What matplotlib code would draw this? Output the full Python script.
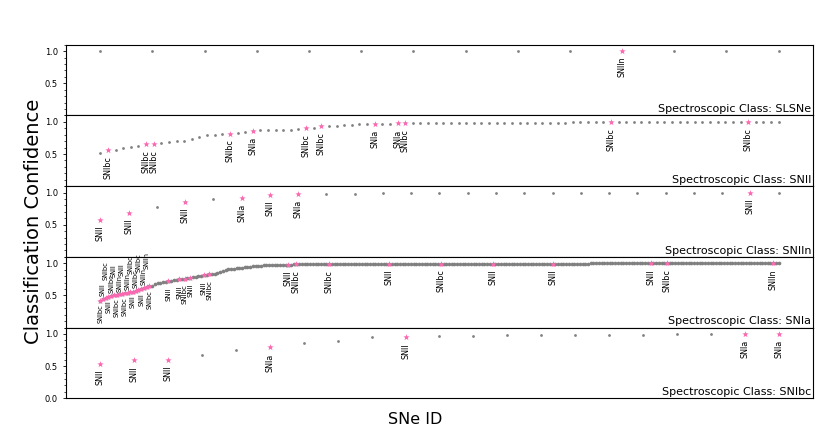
import numpy as np
import matplotlib
matplotlib.use("Agg")
import matplotlib.pyplot as plt
from matplotlib.ticker import MultipleLocator

# panel names (spectroscopic class) top to bottom
classes = ["SLSNe", "SNII", "SNIIn", "SNIa", "SNIbc"]

# sorted classification confidence per spectroscopic class
slsne_conf = [1.0, 1.0, 1.0, 1.0, 1.0, 1.0, 1.0, 1.0, 1.0, 1.0, 1.0, 1.0, 1.0, 1.0]
slsne_miss = [10]
slsne_lab = ["SNIIn"]

snii_conf = [
    0.51, 0.555, 0.57, 0.60, 0.61, 0.63, 0.65, 0.655, 0.675, 0.69,
    0.705, 0.71, 0.74, 0.76, 0.80, 0.80, 0.805, 0.815, 0.82, 0.835,
    0.86, 0.87, 0.872, 0.875, 0.878, 0.88, 0.885, 0.90, 0.91, 0.93,
    0.935, 0.94, 0.95, 0.955, 0.96, 0.962, 0.965, 0.97, 0.972, 0.975,
    0.975, 0.977, 0.978, 0.979, 0.98, 0.981, 0.982, 0.983, 0.984, 0.985,
    0.985, 0.986, 0.986, 0.987, 0.987, 0.988, 0.988, 0.989, 0.989, 0.99,
    0.99, 0.99, 0.991, 0.991, 0.992, 0.992, 0.992, 0.993, 0.993, 0.993,
    0.994, 0.994, 0.995, 0.995, 0.995, 0.996, 0.996, 0.996, 0.997, 0.997,
    0.997, 0.998, 0.998, 0.998, 0.999, 0.999, 0.999, 1.0, 1.0, 1.0,
]
snii_miss = [1, 6, 7, 17, 20, 27, 29, 36, 39, 40, 67, 85]
snii_lab = ["SNIbc", "SNIbc", "SNIbc", "SNIbc", "SNIa", "SNIbc", "SNIbc",
            "SNIa", "SNIa", "SNIbc", "SNIbc", "SNIbc"]

sniin_conf = [
    0.57, 0.69, 0.775, 0.853, 0.90, 0.92, 0.97, 0.975, 0.978, 0.985,
    0.988, 0.99, 0.99, 0.991, 0.992, 0.993, 0.994, 0.995, 0.995, 0.996,
    0.997, 0.998, 0.998, 0.999, 1.0,
]
sniin_miss = [0, 1, 3, 5, 6, 7, 23]
sniin_lab = ["SNII", "SNII", "SNII", "SNIa", "SNII", "SNIa", "SNII"]

snia_conf = [
    0.420, 0.445, 0.465, 0.480, 0.490, 0.500, 0.510, 0.518, 0.526, 0.533,
    0.540, 0.548, 0.560, 0.575, 0.590, 0.600, 0.615, 0.630, 0.640, 0.650,
    0.675, 0.690, 0.700, 0.708, 0.715, 0.720, 0.727, 0.735, 0.742, 0.750,
    0.755, 0.762, 0.770, 0.775, 0.782, 0.790, 0.797, 0.803, 0.810, 0.820,
    0.826, 0.832, 0.840, 0.850, 0.865, 0.885, 0.900, 0.905, 0.910, 0.918,
    0.923, 0.928, 0.933, 0.938, 0.942, 0.947, 0.951, 0.955, 0.958, 0.962,
    0.966, 0.969, 0.971, 0.973, 0.975, 0.976, 0.977, 0.978, 0.979, 0.980,
    0.981, 0.982, 0.982, 0.983, 0.984, 0.984, 0.985, 0.985, 0.986, 0.986,
    0.987, 0.987, 0.988, 0.988, 0.989,
    0.989, 0.989, 0.989, 0.990, 0.990, 0.990, 0.990, 0.990, 0.991, 0.991, 0.991, 0.991, 0.991, 0.991, 0.992,
    0.992, 0.992, 0.992, 0.992, 0.992, 0.992, 0.992, 0.992, 0.992, 0.992, 0.992, 0.992, 0.992, 0.992, 0.992,
    0.992, 0.992, 0.993, 0.993, 0.993, 0.993, 0.993, 0.993, 0.993, 0.993, 0.993, 0.993, 0.993, 0.993, 0.993,
    0.993, 0.993, 0.993, 0.993, 0.993, 0.994, 0.994, 0.994, 0.994, 0.994, 0.994, 0.994, 0.994, 0.994, 0.994,
    0.994, 0.994, 0.994, 0.994, 0.994, 0.995, 0.995, 0.995, 0.995, 0.995, 0.995, 0.995, 0.995, 0.995, 0.995,
    0.995, 0.995, 0.995, 0.995, 0.995, 0.996, 0.996, 0.996, 0.996, 0.996, 0.996, 0.996, 0.996, 0.996, 0.996,
    0.996, 0.996, 0.996, 0.996, 0.996, 0.997, 0.997, 0.997, 0.997, 0.997, 0.997, 0.997, 0.997, 0.997, 0.997,
    0.997, 0.997, 0.997, 0.997, 0.997, 0.998, 0.998, 0.998, 0.998, 0.998, 0.998, 0.998, 0.998, 0.998, 0.998,
    0.998, 0.998, 0.998, 0.998, 0.998, 0.998, 0.998, 0.998, 0.998, 0.998, 0.999, 0.999, 0.999, 0.999, 0.999,
    0.999, 0.999, 0.999, 0.999, 0.999, 0.999, 0.999, 0.999, 0.999, 0.999, 0.999, 0.999, 0.999, 0.999, 0.999,
    0.999, 0.999, 0.999, 0.999, 0.999, 1.0, 1.0, 1.0, 1.0, 1.0, 1.0, 1.0, 1.0, 1.0, 1.0,
]
snia_miss = [0, 1, 2, 3, 4, 5, 6, 7, 8, 9, 10, 11, 12, 13, 14, 15, 16, 17, 18,
             25, 29, 31, 33, 38, 40, 69, 72, 84, 106, 125, 144, 166, 202, 208, 247]
snia_lab = ["SNIbc", "SNII", "SNIbc", "SNII", "SNIbc", "SNII", "SNIbc", "SNIIn",
            "SNII", "SNIbc", "SNIIn", "SNIbc", "SNII", "SNIbc", "SNIbc", "SNII",
            "SNIIn", "SNIIn", "SNIbc",
            "SNII", "SNII", "SNIbc", "SNII", "SNII", "SNIbc",
            "SNII", "SNIbc", "SNIbc", "SNII", "SNIbc", "SNII", "SNII", "SNII",
            "SNIbc", "SNIIn"]

snibc_conf = [
    0.537, 0.59, 0.592, 0.68, 0.75, 0.79, 0.853, 0.884, 0.946, 0.948,
    0.97, 0.975, 0.98, 0.982, 0.985, 0.987, 0.99, 0.992, 0.995, 0.997, 0.999,
]
snibc_miss = [0, 1, 2, 5, 9, 19, 20]
snibc_lab = ["SNII", "SNII", "SNII", "SNIa", "SNII", "SNIa", "SNIa"]

all_conf = [slsne_conf, snii_conf, sniin_conf, snia_conf, snibc_conf]
all_miss = [slsne_miss, snii_miss, sniin_miss, snia_miss, snibc_miss]
all_lab = [slsne_lab, snii_lab, sniin_lab, snia_lab, snibc_lab]

fig, axes = plt.subplots(5, 1, figsize=(8.3, 4.43), dpi=100)
plt.subplots_adjust(left=0.080, right=0.979, top=0.899, bottom=0.101, hspace=0)

for p, ax in enumerate(axes):
    conf = np.array(all_conf[p])
    x = np.arange(len(conf))
    miss = np.array(all_miss[p])
    dot = 7 if p == 3 else 4
    ax.scatter(x, conf, s=dot, color="gray", linewidths=0, zorder=2)
    ax.scatter(miss, conf[miss], s=24, marker="*", color="#ff69b4",
               linewidths=0, zorder=3)
    for k, (i, lab) in enumerate(zip(miss, all_lab[p])):
        v = conf[i]
        if p == 3 and i < 20:
            # crowded part of the SNIa panel: stagger the labels
            lev = k % 3
            if lev == 0:
                ax.text(i, v - 0.06, lab, rotation=90, ha="center", va="top",
                        fontsize=4.8)
            elif lev == 1:
                ax.text(i, v + 0.04, lab, rotation=90, ha="center", va="bottom",
                        fontsize=4.8)
            else:
                ax.text(i, v + 0.28, lab, rotation=90, ha="center", va="bottom",
                        fontsize=4.8)
        else:
            fs = 5 if p == 3 and i < 45 else 5.8
            ax.text(i, v - 0.09, lab, rotation=90, ha="center", va="top",
                    fontsize=fs)
    ax.set_ylim(0, 1.1)
    ax.set_xticks([])
    if p == 4:
        ax.set_yticks([0.0, 0.5, 1.0])
    else:
        ax.set_yticks([0.5, 1.0])
    ax.yaxis.set_minor_locator(MultipleLocator(0.1))
    ax.tick_params(axis="y", which="major", labelsize=6, length=2.5, width=0.6)
    ax.tick_params(axis="y", which="minor", length=1.5, width=0.5)
    ax.text(0.998, 0.015, "Spectroscopic Class: " + classes[p],
            transform=ax.transAxes, ha="right", va="bottom", fontsize=8)

fig.text(0.04, 0.5, "Classification Confidence", rotation=90,
         ha="center", va="center", fontsize=14)
fig.text(0.5, 0.054, "SNe ID", ha="center", va="center", fontsize=11.5)

plt.savefig("out.png", dpi=100)
